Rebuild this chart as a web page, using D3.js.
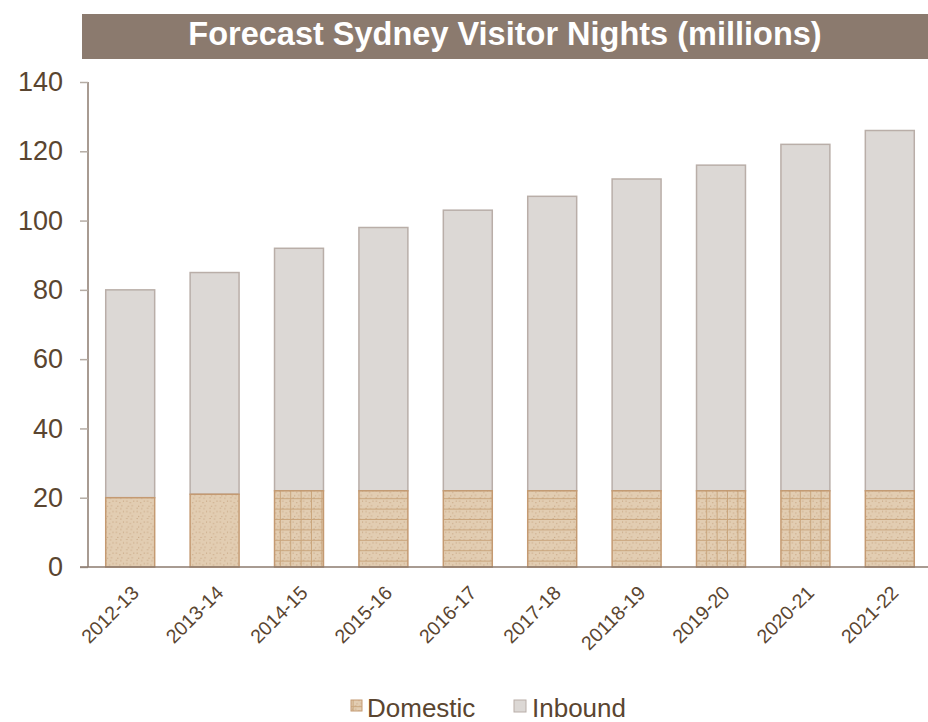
<html>
<head>
<script src='https://d3js.org/d3.v7.min.js'></script>
<style>
body { margin: 0; background: #fff; }
text { font-family: 'Liberation Sans', Arial, sans-serif; }
</style>
</head>
<body>
<svg width=928 height=722></svg>
<script>
// data
var years = ['2012-13','2013-14','2014-15','2015-16','2016-17','2017-18','20118-19','2019-20','2020-21','2021-22'];
var domestic = [20, 21, 22, 22, 22, 22, 22, 22, 22, 22];
var inbound = [60, 64, 70, 76, 81, 85, 90, 94, 100, 104];
var yTicks = [0, 20, 40, 60, 80, 100, 120, 140];
var seriesNames = ['Domestic', 'Inbound'];

// texture used by each domestic bar (the source picture scales its image fill differently per bar)
var texture = ['dots','dots','grid','rows','rows','rows','rows','grid','grid','rows'];

var svg = d3.select('svg');
var ink = '#5a4530';

var defs = svg.append('defs');
function makePattern(id, rows, cols) {
	var p = defs.append('pattern').attr('id', id).attr('patternUnits', 'userSpaceOnUse')
		.attr('width', 10.4).attr('height', 10.4);
	p.append('rect').attr('width', 10.4).attr('height', 10.4).attr('fill', '#e2cdb2');
	[[1.5,1.5],[5,3],[8.5,1.5],[3,6.5],[7,6],[1.5,8.5],[6,9]].forEach(function(d) {
		p.append('rect').attr('x', d[0]).attr('y', d[1]).attr('width', 1).attr('height', 1).attr('fill', '#c4a07c');
	});
	if (rows) p.append('rect').attr('x', 0).attr('y', 9.4).attr('width', 10.4).attr('height', 1).attr('fill', '#c9a57c');
	if (cols) p.append('rect').attr('x', 9.4).attr('y', 0).attr('width', 1).attr('height', 10.4).attr('fill', '#c9a57c');
}
makePattern('dots', false, false);
makePattern('rows', true, false);
makePattern('grid', true, true);

var x = d3.scaleBand().domain(years).range([88, 932]).paddingInner(0.42).paddingOuter(0.21);
var y = d3.scaleLinear().domain([0, 140]).range([567, 82]);

// title banner
svg.append('rect').attr('x', 82).attr('y', 14).attr('width', 846).attr('height', 45).attr('fill', '#8b7a6e');
svg.append('text').attr('x', 505).attr('y', 45).attr('text-anchor', 'middle')
	.attr('fill', '#fff').attr('font-size', 32.5).attr('font-weight', 'bold')
	.text('Forecast Sydney Visitor Nights (millions)');

// bars
var stackData = years.map(function(yr, i) { return {year: yr, Domestic: domestic[i], Inbound: inbound[i], tex: texture[i]}; });
var series = d3.stack().keys(seriesNames)(stackData);

var g = svg.append('g');
g.selectAll('rect.inb').data(series[1]).enter().append('rect').attr('class', 'inb')
	.attr('x', function(d) { return x(d.data.year); })
	.attr('width', x.bandwidth())
	.attr('y', function(d) { return y(d[1]); })
	.attr('height', function(d) { return y(d[0]) - y(d[1]); })
	.attr('fill', '#dcd8d5').attr('stroke', '#b9aea8').attr('stroke-width', 1.5);
g.selectAll('rect.dom').data(series[0]).enter().append('rect').attr('class', 'dom')
	.attr('x', function(d) { return x(d.data.year); })
	.attr('width', x.bandwidth())
	.attr('y', function(d) { return y(d[1]); })
	.attr('height', function(d) { return y(d[0]) - y(d[1]); })
	.attr('fill', function(d) { return 'url(#' + d.data.tex + ')'; })
	.attr('stroke', '#c49a72').attr('stroke-width', 1.5);

// y axis
var ya = svg.append('g').attr('transform', 'translate(88,0)')
	.call(d3.axisLeft(y).tickValues(yTicks).tickSize(8).tickPadding(17));
ya.select('.domain').attr('stroke', '#8b7a6e').attr('stroke-width', 1.5).attr('d', 'M0,82V567');
ya.selectAll('.tick line').attr('stroke', '#b5aca4').attr('stroke-width', 1.5);
ya.selectAll('.tick text').attr('fill', ink).attr('font-size', 27)
	.attr('font-family', "'Liberation Sans', Arial, sans-serif");

// x axis
var xa = svg.append('g').attr('transform', 'translate(0,567)')
	.call(d3.axisBottom(x).tickSize(0).tickPadding(0));
xa.select('.domain').attr('stroke', '#8b7a6e').attr('stroke-width', 1.5).attr('d', 'M80,0H928');
xa.selectAll('.tick text').attr('fill', ink).attr('font-size', 19.5)
	.attr('font-family', "'Liberation Sans', Arial, sans-serif")
	.attr('text-anchor', 'end').attr('dy', 0).attr('y', 0)
	.attr('transform', 'translate(10,27) rotate(-45)');

// legend
var leg = svg.append('g');
leg.append('rect').attr('x', 351).attr('y', 700).attr('width', 11).attr('height', 11)
	.attr('fill', 'url(#grid)').attr('stroke', '#c49a72');
leg.append('text').attr('x', 367).attr('y', 717).attr('font-size', 26).attr('fill', ink).text(seriesNames[0]);
leg.append('rect').attr('x', 514).attr('y', 700).attr('width', 12).attr('height', 12)
	.attr('fill', '#dcd8d5').attr('stroke', '#b9aea8');
leg.append('text').attr('x', 532).attr('y', 717).attr('font-size', 26).attr('fill', ink).text(seriesNames[1]);
</script>
</body>
</html>
